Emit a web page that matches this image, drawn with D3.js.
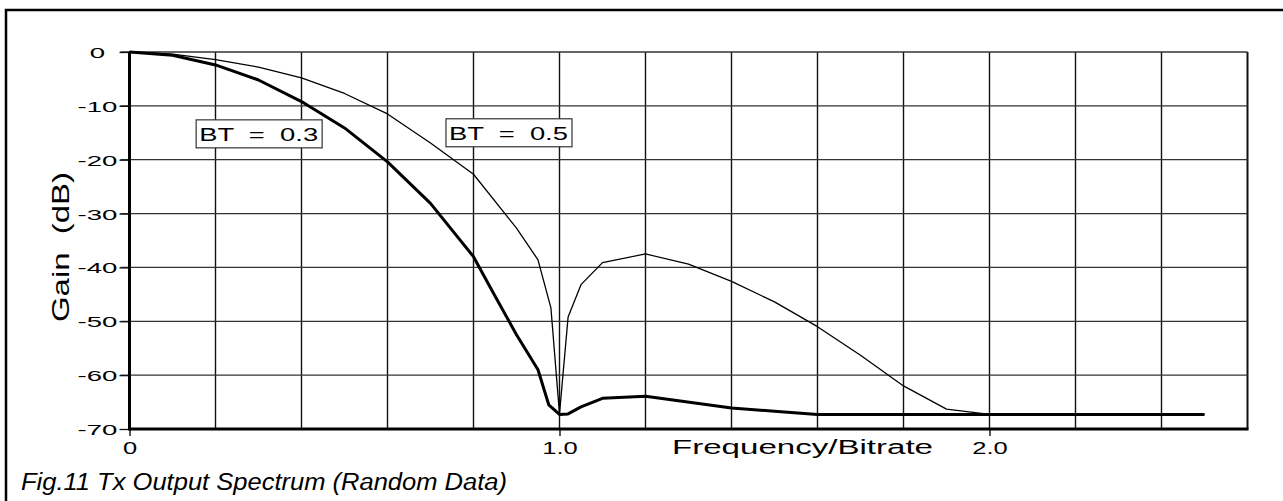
<!DOCTYPE html>
<html>
    <head>
        <meta charset="UTF-8" />
        <title>Fig.11 Tx Output Spectrum</title>
        <script src="https://d3js.org/d3.v7.min.js"></script>
        <style>
body {
    margin: 0px;
    background: white;
}
text {
    font-family: "Liberation Sans", Arial, sans-serif;
    white-space: pre;
}
        </style>
    </head>
    <body>
        <svg id="chart"></svg>
<script>
// chart values
const xTicks = [0, 1.0, 2.0];
const xTickLabels = ["0", "1.0", "2.0"];
const xGrid = [0.2, 0.4, 0.6, 0.8, 1.0, 1.2, 1.4, 1.6, 1.8, 2.0, 2.2, 2.4, 2.6];
const yTicks = [0, -10, -20, -30, -40, -50, -60, -70];

// BT = 0.3 (thick)
const freq03 = [0, 0.1, 0.2, 0.3, 0.4, 0.5, 0.6, 0.7, 0.8, 0.85, 0.9, 0.95, 0.975, 1.0, 1.02, 1.05, 1.1, 1.2, 1.4, 1.5, 1.6, 2.0, 2.5];
const gain03 = [0, -0.6, -2.4, -5.2, -9.2, -14.1, -20.4, -28.1, -38, -45.3, -52.5, -59, -65.5, -67.3, -67.2, -65.9, -64.3, -63.9, -66.1, -66.7, -67.3, -67.3, -67.3];

// BT = 0.5 (thin)
const freq05 = [0, 0.1, 0.2, 0.3, 0.4, 0.5, 0.6, 0.7, 0.8, 0.9, 0.95, 0.98, 1.0, 1.02, 1.05, 1.1, 1.2, 1.3, 1.4, 1.5, 1.6, 1.7, 1.8, 1.9, 2.0, 2.5];
const gain05 = [0, -0.4, -1.4, -2.8, -4.8, -7.7, -11.5, -16.9, -22.7, -32.7, -38.6, -47.5, -67.2, -49.2, -43.2, -39.1, -37.5, -39.4, -42.6, -46.4, -51, -56.3, -62, -66.3, -67.3, -67.3];

// label boxes, anchored in data units
const seriesLabels = ["BT  =  0.3", "BT  =  0.5"];
const labelFreq = [0.155, 0.736];
const labelGain = [-12.6, -12.4];

const width = 1283, height = 501;
let svg = d3.select("#chart").attr("width", width).attr("height", height);

svg.append("rect").attr("width", width).attr("height", height).attr("fill", "white");

// outer frame (runs off the right and bottom edges)
svg.append("rect")
    .attr("x", 6).attr("y", 10)
    .attr("width", 1300).attr("height", 520)
    .attr("fill", "none").attr("stroke", "#000").attr("stroke-width", 2.5);

let x = d3.scaleLinear().domain([0, 2.6]).range([129.5, 1247.5]);
let y = d3.scaleLinear().domain([0, -70]).range([52, 429]);

let fitTo = (sel, w) => sel.attr("textLength", w).attr("lengthAdjust", "spacingAndGlyphs");

// grid
let grid = svg.append("g");
grid.selectAll("line.v").data(xGrid).enter().append("line")
    .attr("x1", d => x(d)).attr("x2", d => x(d))
    .attr("y1", y(0)).attr("y2", y(-70))
    .attr("stroke", "#111").attr("stroke-width", d => d === 2.6 ? 2 : 1.4);
grid.selectAll("line.h").data(yTicks.slice(0, -1)).enter().append("line")
    .attr("x1", x(0) - 9).attr("x2", x(2.6))
    .attr("y1", d => y(d)).attr("y2", d => y(d))
    .attr("stroke", "#333").attr("stroke-width", 1.3);

// y axis ticks + labels
let yAxis = svg.append("g")
    .attr("transform", `translate(${x(0)},0)`)
    .call(d3.axisLeft(y).tickValues(yTicks).tickSize(10).tickFormat(d => d === 0 ? "0" : String(d)));
yAxis.select(".domain").remove();
yAxis.selectAll(".tick line").attr("stroke", "#111").attr("stroke-width", 1.3);
yAxis.selectAll(".tick text")
    .attr("font-family", "Liberation Sans, Arial, sans-serif")
    .attr("font-size", 14.5).attr("fill", "#000")
    .attr("text-anchor", "start").attr("dy", null).attr("y", 5.5)
    .each(function() {
        let w = this.getComputedTextLength() * 1.9;
        d3.select(this).attr("textLength", w).attr("lengthAdjust", "spacingAndGlyphs")
            .attr("x", 97.5 - x(0) - w / 2);
    });

// x axis ticks + labels
let xAxis = svg.append("g")
    .attr("transform", `translate(0,${y(-70)})`)
    .call(d3.axisBottom(x).tickValues(xTicks).tickSize(7).tickFormat((d, i) => xTickLabels[i]));
xAxis.select(".domain").remove();
xAxis.selectAll(".tick line").attr("stroke", "#111").attr("stroke-width", 1.4);
xAxis.selectAll(".tick text")
    .attr("font-family", "Liberation Sans, Arial, sans-serif")
    .attr("font-size", 17).attr("fill", "#000")
    .attr("text-anchor", "start").attr("dy", null).attr("y", 25)
    .each(function() {
        let w = this.getComputedTextLength() * 1.5;
        d3.select(this).attr("textLength", w).attr("lengthAdjust", "spacingAndGlyphs")
            .attr("x", -w / 2);
    });

// thick axis lines
svg.append("line").attr("x1", x(0)).attr("x2", x(0)).attr("y1", y(0)).attr("y2", y(-70) + 1.5)
    .attr("stroke", "#000").attr("stroke-width", 3);
svg.append("line").attr("x1", x(0)).attr("x2", x(2.6) + 1).attr("y1", y(-70)).attr("y2", y(-70))
    .attr("stroke", "#000").attr("stroke-width", 3);

// curves
let line = d3.line().x(d => x(d[0])).y(d => y(d[1]));
svg.append("path")
    .datum(d3.zip(freq05, gain05))
    .attr("d", line).attr("fill", "none")
    .attr("stroke", "#000").attr("stroke-width", 1.3).attr("stroke-linejoin", "round");
svg.append("path")
    .datum(d3.zip(freq03, gain03))
    .attr("d", line).attr("fill", "none")
    .attr("stroke", "#000").attr("stroke-width", 3).attr("stroke-linejoin", "round");

// BT label boxes
seriesLabels.forEach((label, i) => {
    let bx = x(labelFreq[i]), by = y(labelGain[i]);
    svg.append("rect")
        .attr("x", bx).attr("y", by).attr("width", 126).attr("height", 28)
        .attr("fill", "white").attr("stroke", "#333").attr("stroke-width", 1.2);
    fitTo(svg.append("text")
        .attr("x", bx + 3).attr("y", by + 21)
        .attr("font-size", 18.5).text(label), 119);
});

// axis titles
fitTo(svg.append("text")
    .attr("x", 672).attr("y", 454)
    .attr("font-size", 19.5).text("Frequency/Bitrate"), 261);

fitTo(svg.append("text")
    .attr("transform", "translate(69,322) rotate(-90)")
    .attr("font-size", 24).text("Gain  (dB)"), 150);

// caption
fitTo(svg.append("text")
    .attr("x", 21).attr("y", 490)
    .attr("font-size", 23).attr("font-style", "italic")
    .text("Fig.11 Tx Output Spectrum (Random Data)"), 486);
</script>
    </body>
</html>
